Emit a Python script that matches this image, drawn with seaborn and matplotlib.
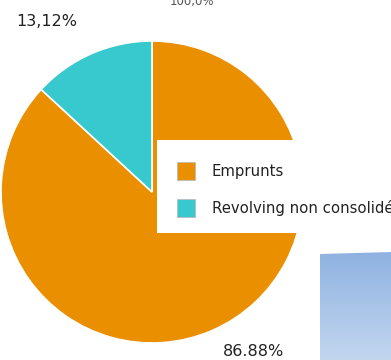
import numpy as np
import matplotlib
matplotlib.use("Agg")
import matplotlib.pyplot as plt
from matplotlib.patches import Patch, Polygon, Rectangle
from matplotlib.colors import LinearSegmentedColormap
import seaborn as sns

# Data
categories = ["Emprunts", "Revolving non consolidé"]
shares = [86.88, 13.12]
share_labels = ["86.88%", "13,12%"]
total_label = "100,0%"
palette = ["#EA9000", "#38C9CE"]

sns.set_theme(style="white")
plt.rcParams["font.family"] = ["DejaVu Sans"]

W, H = 391, 360
fig = plt.figure(figsize=(W / 100, H / 100), dpi=100)
ax = fig.add_axes([0, 0, 1, 1])

cx, cy, r = 152, 168, 151
wedges, _ = ax.pie(
    shares,
    colors=palette,
    startangle=90,
    counterclock=False,
    center=(cx, cy),
    radius=r,
    explode=[0, 0.027],
    wedgeprops=dict(edgecolor="white", linewidth=1.2),
    frame=True,
)
ax.set_xlim(0, W)
ax.set_ylim(0, H)
ax.set_aspect("auto")
ax.axis("off")

# Percentage labels
ax.text(47, 338, share_labels[1], fontsize=11.5, color="#222222",
        ha="center", va="center")
ax.text(254, 9, share_labels[0], fontsize=11.5, color="#222222",
        ha="center", va="center")
ax.text(192, 359, total_label, fontsize=8.5, color="#555555",
        ha="center", va="center")

# Bar with vertical gradient at the lower right
grad_cmap = LinearSegmentedColormap.from_list("bar", ["#C2D6EF", "#8FB2E1"])
grad = np.linspace(0, 1, 256).reshape(-1, 1)
img = ax.imshow(grad, extent=[320, 392, 0, 108], origin="lower",
                cmap=grad_cmap, aspect="auto", zorder=3)
clip = Polygon([(320, 0), (392, 0), (392, 108), (320, 106)],
               closed=True, transform=ax.transData, facecolor="none",
               edgecolor="none")
ax.add_patch(clip)
img.set_clip_path(clip)
ax.set_xlim(0, W)
ax.set_ylim(0, H)

# Legend panel
ax.add_patch(Rectangle((157, H - 233), 240, 93, facecolor="white",
                       edgecolor="none", zorder=4))
handles = [Patch(facecolor=c, edgecolor="#bbbbbb", linewidth=0.6)
           for c in palette]
leg = fig.legend(
    handles, categories,
    loc="upper left",
    bbox_to_anchor=(177 / W, 1 - 162 / H),
    fontsize=10.7,
    frameon=False,
    handlelength=1.22,
    handleheight=1.49,
    handletextpad=1.13,
    labelspacing=1.28,
    borderpad=0,
    borderaxespad=0,
)
for t in leg.get_texts():
    t.set_color("#222222")

fig.savefig("out.png", dpi=100)
